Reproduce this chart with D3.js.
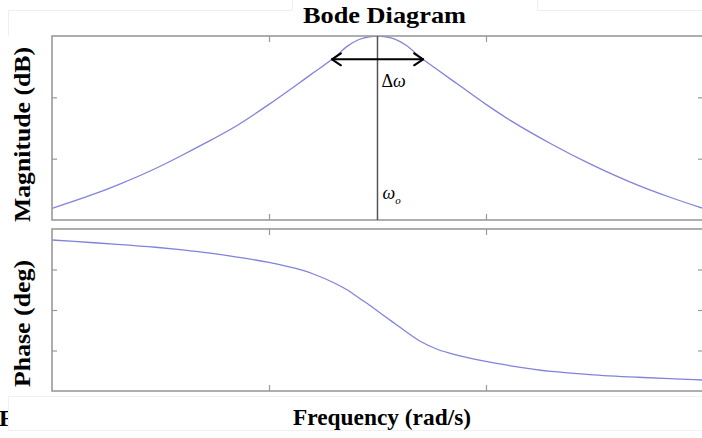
<!DOCTYPE html>
<html>
<head>
<meta charset="utf-8">
<script src="https://cdn.jsdelivr.net/npm/d3@7"></script>
<style>
  html, body { margin: 0; padding: 0; background: #fff; }
  svg { display: block; }
  text { font-family: "Liberation Serif", "Times New Roman", serif; fill: #000; }
</style>
</head>
<body>
<svg id="chart" width="702" height="438"></svg>
<script>
// Frequency samples (rad/s) of the band-pass response
const freq = [0.1, 0.15, 0.2, 0.3, 0.4, 0.5, 0.7, 1, 1.3, 1.6, 2, 2.3, 2.6, 2.9, 3.162,
              3.45, 3.8, 4.3, 5, 6, 7.5, 10, 13, 20, 30, 50, 70, 100];
// Magnitude response (dB)
const magnitudeDb = [-28.1, -26.0, -24.3, -21.6, -19.4, -17.6, -14.75, -11.15, -8.3, -6.0, -3.52, -1.65, -0.57, -0.15, 0,
                     -0.15, -0.52, -1.55, -3.52, -5.55, -8.0, -11.15, -13.8, -17.6, -20.8, -24.3, -26.25, -28.1];
// Phase response (deg)
const phaseDeg = [77.8, 75.0, 73.0, 69.7, 66.7, 64.1, 59.1, 52.8, 46.7, 40.0, 30.0, 22.2, 13.3, 5.6, -1.1,
                  -7.8, -15.0, -24.4, -35.0, -43.9, -50.6, -57.2, -62.0, -68.3, -71.7, -74.7, -76.3, -77.8];

// Axis limits and tick values
const freqDomain = [0.1, 100];
const freqTicks = [1, 10];
const magDomain = [-30, 0];
const magTicks = [-20, -10];
const phaseDomain = [-90, 90];
const phaseTicks = [-45, 0, 45];

// Centre frequency and the bandwidth marker
const omega0 = 3.162;
const bandEdges = [1.95, 5.13];
const bandLevelDb = -3.8;

const svg = d3.select("#chart");

const x = d3.scaleLog().domain(freqDomain).range([52, 703]);
const yMag = d3.scaleLinear().domain(magDomain).range([220, 36]);
const yPh = d3.scaleLinear().domain(phaseDomain).range([391, 229]);

const frameColor = "#9a9a9a";
const curveColor = "#8282dc";

// faint boxes left over around the figure
const faint = svg.append("g").attr("fill", "none").attr("stroke", "#efefef").attr("stroke-width", 1);
faint.append("path").attr("d", "M8.5,36 V10.5 H292.5 V0");
faint.append("path").attr("d", "M537.5,0 V10.5 H702");

// caption start, mostly covered by the box below
svg.append("text").attr("x", -1).attr("y", 426)
  .attr("font-size", 24).attr("font-weight", "bold").text("Fi");
svg.append("rect").attr("x", 8.5).attr("y", 396.5).attr("width", 700).attr("height", 34)
  .attr("fill", "#fff").attr("stroke", "#f0f0f0");

function panel(yScale, ticks, clipId, values) {
  const [y1, y0] = yScale.range();
  const [x0, x1] = x.range();
  const g = svg.append("g");

  svg.append("clipPath").attr("id", clipId)
    .append("rect").attr("x", x0).attr("y", y0).attr("width", x1 - x0).attr("height", y1 - y0);

  const line = d3.line()
    .x((d, i) => x(freq[i]))
    .y(d => yScale(d))
    .curve(d3.curveMonotoneX);

  g.append("path").datum(values)
    .attr("clip-path", `url(#${clipId})`)
    .attr("fill", "none").attr("stroke", curveColor).attr("stroke-width", 1.3)
    .attr("d", line);

  // inward ticks on all four sides
  const tickStyle = sel => {
    sel.select(".domain").remove();
    sel.selectAll(".tick line").attr("stroke", frameColor).attr("stroke-width", 1.2);
    sel.selectAll(".tick text").remove();
  };
  g.append("g").attr("transform", `translate(${x0},0)`)
    .call(d3.axisLeft(yScale).tickValues(ticks).tickSize(-5).tickFormat("")).call(tickStyle);
  g.append("g").attr("transform", `translate(${x1},0)`)
    .call(d3.axisRight(yScale).tickValues(ticks).tickSize(-5).tickFormat("")).call(tickStyle);
  g.append("g").attr("transform", `translate(0,${y0})`)
    .call(d3.axisTop(x).tickValues(freqTicks).tickSize(-6).tickFormat("")).call(tickStyle);
  g.append("g").attr("transform", `translate(0,${y1})`)
    .call(d3.axisBottom(x).tickValues(freqTicks).tickSize(-6).tickFormat("")).call(tickStyle);

  g.append("rect").attr("x", x0).attr("y", y0).attr("width", x1 - x0).attr("height", y1 - y0)
    .attr("fill", "none").attr("stroke", frameColor).attr("stroke-width", 1.6);
  return g;
}

const magPanel = panel(yMag, magTicks, "clip-mag", magnitudeDb);
panel(yPh, phaseTicks, "clip-ph", phaseDeg);

// centre-frequency marker
magPanel.append("line")
  .attr("x1", x(omega0)).attr("x2", x(omega0))
  .attr("y1", yMag.range()[1]).attr("y2", yMag.range()[0])
  .attr("stroke", "#555").attr("stroke-width", 1.5);

// bandwidth arrow
const ay = yMag(bandLevelDb);
const ax0 = x(bandEdges[0]), ax1 = x(bandEdges[1]);
const arrow = magPanel.append("g").attr("fill", "none").attr("stroke", "#000")
  .attr("stroke-width", 2).attr("stroke-linecap", "round").attr("stroke-linejoin", "round");
arrow.append("line").attr("x1", ax0).attr("x2", ax1).attr("y1", ay).attr("y2", ay);
arrow.append("path").attr("d", `M${ax0 + 9},${ay - 6} L${ax0},${ay} L${ax0 + 9},${ay + 6}`);
arrow.append("path").attr("d", `M${ax1 - 9},${ay - 6} L${ax1},${ay} L${ax1 - 9},${ay + 6}`);

const dw = magPanel.append("text").attr("x", x(omega0) + 4).attr("y", 87).attr("font-size", 18);
dw.append("tspan").text("Δ");
dw.append("tspan").attr("font-style", "italic").text("ω");

const w0 = magPanel.append("text").attr("x", x(omega0) + 5).attr("y", 199).attr("font-size", 18);
w0.append("tspan").attr("font-style", "italic").text("ω");
w0.append("tspan").attr("font-style", "italic").attr("font-size", 11).attr("dy", 5).text("o");

// titles and axis labels
svg.append("text").attr("x", 384.5).attr("y", 23).attr("text-anchor", "middle")
  .attr("font-size", 24).attr("font-weight", "bold")
  .attr("textLength", 163).attr("lengthAdjust", "spacingAndGlyphs").text("Bode Diagram");

svg.append("text").attr("x", 382).attr("y", 425).attr("text-anchor", "middle")
  .attr("font-size", 24).attr("font-weight", "bold")
  .attr("textLength", 178).attr("lengthAdjust", "spacingAndGlyphs").text("Frequency (rad/s)");

svg.append("text").attr("transform", "translate(30,134.5) rotate(-90)").attr("text-anchor", "middle")
  .attr("font-size", 23).attr("font-weight", "bold")
  .attr("textLength", 175).attr("lengthAdjust", "spacingAndGlyphs").text("Magnitude (dB)");

svg.append("text").attr("transform", "translate(30,323.5) rotate(-90)").attr("text-anchor", "middle")
  .attr("font-size", 23).attr("font-weight", "bold")
  .attr("textLength", 127).attr("lengthAdjust", "spacingAndGlyphs").text("Phase (deg)");
</script>
</body>
</html>
